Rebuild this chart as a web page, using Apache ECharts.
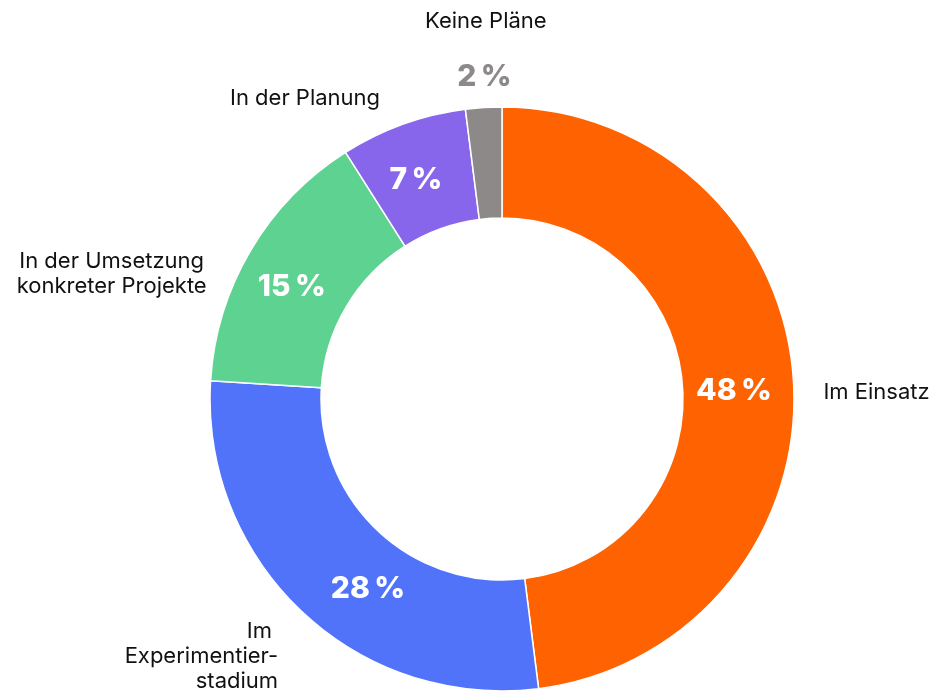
<!DOCTYPE html>
<html>
<head>
<meta charset="utf-8">
<script src="https://cdn.jsdelivr.net/npm/echarts@6/dist/echarts.min.js"></script>
<style>
  html, body { margin: 0; padding: 0; background: #fff; }
  #main { width: 933px; height: 691px; }
</style>
</head>
<body>
<div id="main"></div>
<script>
// Anteile in Prozent
var categories = ['Im Einsatz', 'Im \nExperimentier-\nstadium', 'In der Umsetzung\nkonkreter Projekte', 'In der Planung', 'Keine Pläne'];
var values = [48, 28, 15, 7, 2];
var colors = ['#FF6200', '#5173FA', '#5ED291', '#8866EC', '#8D8988'];

// kleine Verschiebungen der Beschriftungen
var nameNudge = [[5, 12], [1, 45], [-114, 24], [2, -26], [88, -86]];
var pctNudge = [[-7, 7], [30, 15], [-4, 10], [-5, 6], [33, -31]];

var chartDom = document.getElementById('main');
var myChart = echarts.init(chartDom);

var pieData = values.map(function (v, i) {
  var item = { name: categories[i], value: v, itemStyle: { color: colors[i] } };
  if (i === 4) {
    // zu klein fuer innen
    item.label = { position: 'outside', color: colors[i] };
    item.labelLine = { show: false, length: 0, length2: 0 };
  }
  return item;
});

var option = {
  animation: false,
  series: [
    {
      type: 'pie',
      center: [502, 399],
      radius: [181, 292],
      startAngle: 90,
      clockwise: true,
      avoidLabelOverlap: false,
      itemStyle: { borderColor: '#fff', borderWidth: 1.5 },
      label: {
        show: true,
        position: 'inside',
        formatter: function (p) { return p.value + '\u2009%'; },
        color: '#fff',
        fontFamily: 'Inter',
        fontWeight: 800,
        fontSize: 30
      },
      labelLine: { show: false },
      labelLayout: function (p) {
        var n = pctNudge[p.dataIndex];
        return { dx: n[0], dy: n[1] };
      },
      data: pieData
    },
    {
      type: 'pie',
      silent: true,
      center: [502, 399],
      radius: [181, 292],
      startAngle: 90,
      clockwise: true,
      avoidLabelOverlap: false,
      itemStyle: { color: 'rgba(0,0,0,0)' },
      label: {
        show: true,
        position: 'outside',
        alignTo: 'none',
        distanceToLabelLine: 5,
        formatter: '{b}',
        color: '#111',
        fontFamily: 'Inter',
        fontSize: 22,
        lineHeight: 25
      },
      labelLine: { show: false, length: 0, length2: 20 },
      labelLayout: function (p) {
        var n = nameNudge[p.dataIndex];
        var res = { dx: n[0], dy: n[1] };
        if (p.dataIndex === 2) res.align = 'center';
        return res;
      },
      data: values.map(function (v, i) { return { name: categories[i], value: v }; })
    }
  ]
};

myChart.setOption(option);
window.onresize = function () { myChart.resize(); };
</script>
</body>
</html>
